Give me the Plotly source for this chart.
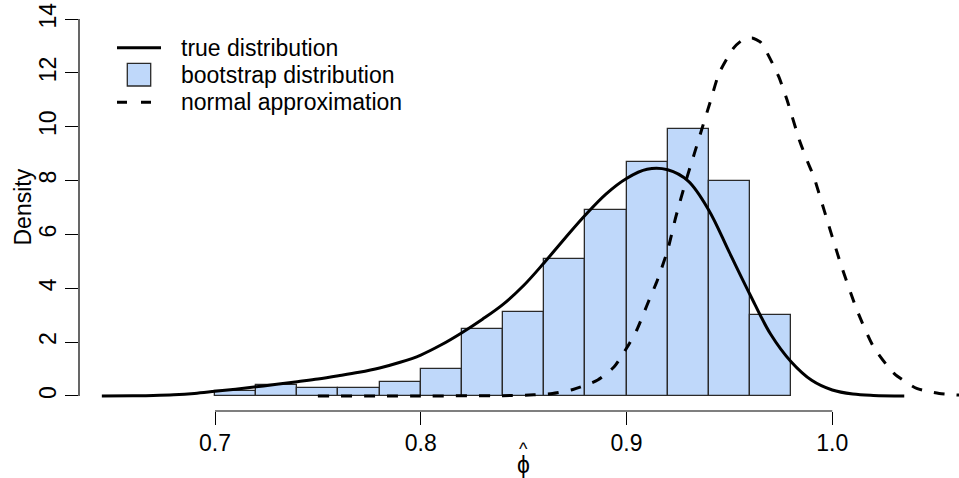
import plotly.graph_objects as go

# ---------------- data ----------------
bin_left = [0.70, 0.72, 0.74, 0.76, 0.78, 0.80, 0.82, 0.84, 0.86, 0.88, 0.90, 0.92, 0.94, 0.96]
bin_width = 0.02
bin_density = [0.2, 0.4, 0.3, 0.3, 0.5, 1.0, 2.5, 3.1, 5.1, 6.9, 8.7, 9.9, 8.0, 3.0]

true_x = [0.645, 0.66, 0.67, 0.68, 0.69, 0.70, 0.71, 0.72, 0.73, 0.74, 0.75, 0.76, 0.77, 0.78,
          0.79, 0.80, 0.81, 0.82, 0.83, 0.84, 0.85, 0.86, 0.87, 0.88, 0.89, 0.90, 0.91,
          0.92, 0.93, 0.94, 0.95, 0.96, 0.97, 0.98, 0.99, 1.00, 1.01, 1.02, 1.035]
true_y = [0.0, 0.005, 0.015, 0.04, 0.09, 0.17, 0.25, 0.34, 0.43, 0.53, 0.63, 0.75, 0.88, 1.04,
          1.25, 1.52, 1.90, 2.35, 2.85, 3.40, 4.10, 4.95, 5.85, 6.72, 7.50, 8.08, 8.42,
          8.40, 7.98, 6.90, 5.33, 3.77, 2.30, 1.27, 0.58, 0.22, 0.07, 0.02, 0.0]

normal_x = [0.750, 0.800, 0.840, 0.855, 0.864, 0.874, 0.886, 0.894, 0.900, 0.905, 0.910, 0.915,
            0.920, 0.924, 0.929, 0.933, 0.936, 0.941, 0.945, 0.952, 0.956, 0.961, 0.965, 0.968,
            0.974, 0.978, 0.984, 0.988, 0.991, 0.996, 1.004, 1.012, 1.020, 1.030, 1.041, 1.052, 1.062]
normal_y = [0.0, 0.0, 0.01, 0.04, 0.09, 0.24, 0.59, 1.08, 1.77, 2.45, 3.38, 4.30,
            5.42, 6.66, 8.02, 9.01, 9.76, 11.0, 11.99, 12.92, 13.2, 13.3, 13.15, 12.79,
            11.86, 11.0, 9.51, 8.7, 8.15, 6.91, 4.93, 3.19, 1.83, 0.84, 0.28, 0.09, 0.03]

x_ticks = [0.7, 0.8, 0.9, 1.0]
x_tick_labels = ["0.7", "0.8", "0.9", "1.0"]
y_ticks = [0, 2, 4, 6, 8, 10, 12, 14]
y_tick_labels = ["0", "2", "4", "6", "8", "10", "12", "14"]

legend_labels = ["true distribution", "bootstrap distribution", "normal approximation"]

# ---------------- style ----------------
FONT = "Liberation Sans, Arial, Helvetica, sans-serif"
FS = 23
BAR_FILL = "#BFD8FA"
BAR_LINE = "#2a2a2a"
W, H = 959, 478
ML, MR, MT, MB = 79, 0, 4, 67
PW = W - ML - MR
PH = H - MT - MB


def px(xp):
    return (xp - ML) / PW


def py(yp):
    return (H - MB - yp) / PH


fig = go.Figure()

fig.add_trace(go.Bar(
    x=bin_left, y=bin_density, width=bin_width, offset=0,
    marker=dict(color=BAR_FILL, line=dict(color=BAR_LINE, width=1.3)),
    showlegend=False, hoverinfo="skip",
))
fig.add_trace(go.Scatter(
    x=true_x, y=true_y, mode="lines", line=dict(color="black", width=3, shape="spline", smoothing=1.0),
    showlegend=False,
))
fig.add_trace(go.Scatter(
    x=normal_x, y=normal_y, mode="lines",
    line=dict(color="black", width=3, dash="11px,12px", shape="spline", smoothing=0.6),
    showlegend=False,
))

shapes = []
shapes.append(dict(type="line", xref="x", yref="paper", x0=x_ticks[0], x1=x_ticks[-1], y0=0, y1=0,
                   line=dict(color="black", width=1.2)))
shapes.append(dict(type="line", xref="paper", yref="y", x0=0, x1=0, y0=y_ticks[0], y1=y_ticks[-1],
                   line=dict(color="black", width=1.2)))
shapes.append(dict(type="line", xref="paper", yref="paper", x0=px(117), x1=px(161), y0=py(47.7), y1=py(47.7),
                   line=dict(color="black", width=3)))
shapes.append(dict(type="rect", xref="paper", yref="paper", x0=px(127.3), x1=px(150.7), y0=py(86), y1=py(63.3),
                   fillcolor=BAR_FILL, line=dict(color=BAR_LINE, width=1.3)))
shapes.append(dict(type="line", xref="paper", yref="paper", x0=px(117), x1=px(161), y0=py(102.3), y1=py(102.3),
                   line=dict(color="black", width=3, dash="10px,14px")))

annotations = []
for i, lab in enumerate(legend_labels):
    annotations.append(dict(text=lab, xref="paper", yref="paper", x=px(179), y=py(47.7 + 27.3 * i),
                            xanchor="left", yanchor="middle", showarrow=False,
                            font=dict(family=FONT, size=FS, color="black")))
annotations.append(dict(text="Density", xref="paper", yref="paper", x=px(22), y=0.5, textangle=-90,
                        xanchor="center", yanchor="middle", showarrow=False,
                        font=dict(family=FONT, size=FS, color="black")))
annotations.append(dict(text="^", xref="paper", yref="paper", x=px(523), y=py(449),
                        xanchor="center", yanchor="middle", showarrow=False,
                        font=dict(family=FONT, size=FS - 5, color="black")))
annotations.append(dict(text="ϕ", xref="paper", yref="paper", x=px(523), y=py(465),
                        xanchor="center", yanchor="middle", showarrow=False,
                        font=dict(family=FONT, size=FS, color="black")))

fig.update_layout(
    width=W, height=H,
    margin=dict(l=ML, r=MR, t=MT, b=MB, pad=0, autoexpand=False),
    plot_bgcolor="white", paper_bgcolor="white",
    font=dict(family=FONT, size=FS, color="black"),
    bargap=0,
    shapes=shapes, annotations=annotations,
    xaxis=dict(range=[0.6339, 1.0616], showgrid=False, zeroline=False, showline=False, automargin=False,
               tickmode="array", tickvals=x_ticks, ticktext=x_tick_labels,
               ticks="outside", ticklen=13, tickwidth=1.2, tickcolor="black", ticklabelstandoff=-2,
               tickfont=dict(family=FONT, size=FS)),
    yaxis=dict(range=[-0.56, 14.56], showgrid=False, zeroline=False, showline=False, automargin=False,
               tickmode="array", tickvals=y_ticks, ticktext=y_tick_labels,
               ticks="outside", ticklen=13, tickwidth=1.2, tickcolor="black", tickangle=-90,
               tickfont=dict(family=FONT, size=FS)),
)

fig.write_html("out.html", config={"displayModeBar": False},
               post_script="document.body.style.margin='0px';document.body.style.overflow='hidden';")
